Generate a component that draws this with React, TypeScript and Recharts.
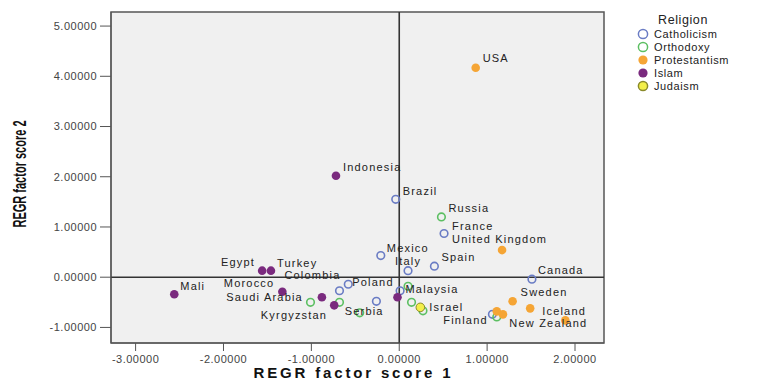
import React from "react";
import {
  ScatterChart,
  Scatter,
  XAxis,
  YAxis,
  ReferenceArea,
  ReferenceLine,
} from "recharts";

// factor scores, one set of arrays per religion
const catholicNames = ["Brazil", "France", "Mexico", "Italy", "Spain", "Canada", "Poland", "Colombia", "", "", ""];
const catholicX = [-0.04, 0.51, -0.21, 0.1, 0.4, 1.51, -0.58, -0.68, -0.26, 0.01, 1.06];
const catholicY = [1.55, 0.87, 0.43, 0.13, 0.22, -0.04, -0.14, -0.27, -0.48, -0.27, -0.74];

const orthodoxNames = ["Russia", "", "", "Serbia", "", "", "", ""];
const orthodoxX = [0.48, -1.01, -0.68, -0.45, 0.1, 0.14, 0.27, 1.11];
const orthodoxY = [1.2, -0.5, -0.5, -0.71, -0.18, -0.5, -0.67, -0.79];

const protestantNames = ["USA", "United Kingdom", "Sweden", "Iceland", "Finland", "", "New Zealand"];
const protestantX = [0.87, 1.17, 1.29, 1.49, 1.11, 1.18, 1.89];
const protestantY = [4.17, 0.54, -0.48, -0.62, -0.68, -0.74, -0.86];

const islamNames = ["Indonesia", "Egypt", "Turkey", "Mali", "Morocco", "Saudi Arabia", "Kyrgyzstan", "Malaysia"];
const islamX = [-0.72, -1.56, -1.46, -2.56, -1.33, -0.88, -0.74, -0.02];
const islamY = [2.02, 0.13, 0.13, -0.34, -0.29, -0.4, -0.56, -0.4];

const judaismNames = ["Israel"];
const judaismX = [0.24];
const judaismY = [-0.6];

const xTicks = [-3, -2, -1, 0, 1, 2];
const yTicks = [-1, 0, 1, 2, 3, 4, 5];

const build = (names: string[], xs: number[], ys: number[]) =>
  names.map((name, i) => ({ name, x: xs[i], y: ys[i] }));

// where each country label sits relative to its dot
const labelPos: Record<string, [string, number, number]> = {
  USA: ["start", 7, -10],
  Indonesia: ["start", 7, -9],
  Brazil: ["start", 7, -8],
  Russia: ["start", 7, -9],
  France: ["start", 8, -8],
  "United Kingdom": ["start", -50, -11],
  Mexico: ["start", 6, -8],
  Italy: ["start", -13, -10],
  Spain: ["start", 7, -9],
  Canada: ["start", 6, -9],
  Egypt: ["end", -7, -9],
  Turkey: ["start", 6, -8],
  Colombia: ["end", 1, -16],
  Mali: ["start", 6, -8],
  Morocco: ["end", -8, -9],
  Poland: ["start", 4, -2],
  "Saudi Arabia": ["end", -19, 0],
  Kyrgyzstan: ["end", -7, 10],
  Serbia: ["start", -15, -2],
  Malaysia: ["start", 8, -8],
  Israel: ["start", 9, 0],
  Finland: ["end", -9, 9],
  Sweden: ["start", 8, -9],
  Iceland: ["start", 12, 3],
  "New Zealand": ["start", -56, 3],
};

const groups = [
  { name: "Catholicism", data: build(catholicNames, catholicX, catholicY), color: "#6a7cc4", open: true, fill: "none" },
  { name: "Orthodoxy", data: build(orthodoxNames, orthodoxX, orthodoxY), color: "#5cbf62", open: true, fill: "none" },
  { name: "Protestantism", data: build(protestantNames, protestantX, protestantY), color: "#f5a535", open: false, fill: "#f5a535" },
  { name: "Islam", data: build(islamNames, islamX, islamY), color: "#7a2a7e", open: false, fill: "#7a2a7e" },
  { name: "Judaism", data: build(judaismNames, judaismX, judaismY), color: "#8a8a2a", open: false, fill: "#f3ef4a" },
];

const labelFont = "'Liberation Sans', Arial, sans-serif";

const makeShape = (g: (typeof groups)[number]) => (props: any) => {
  const { cx, cy, payload } = props;
  const pos = payload && payload.name ? labelPos[payload.name] : undefined;
  return (
    <g>
      {g.open ? (
        <circle cx={cx} cy={cy} r={3.8} fill="none" stroke={g.color} strokeWidth={1.6} />
      ) : (
        <circle cx={cx} cy={cy} r={4.3} fill={g.fill} stroke={g.name === "Judaism" ? g.color : "none"} strokeWidth={1} />
      )}
      {pos && (
        <text
          x={cx + pos[1]}
          y={cy + pos[2]}
          textAnchor={pos[0] as any}
          dominantBaseline="central"
          fontSize={11}
          letterSpacing={1.2}
          fontFamily={labelFont}
          fill="#222"
        >
          {payload.name}
        </text>
      )}
    </g>
  );
};

const ReligionLegend = () => (
  <div
    style={{
      position: "absolute",
      left: 636,
      top: 14,
      fontFamily: labelFont,
      fontSize: 11,
      color: "#222",
      letterSpacing: 0.6,
    }}
  >
    <div style={{ marginLeft: 22, fontSize: 12.5, lineHeight: "13px" }}>Religion</div>
    {groups.map((g) => (
      <div key={g.name} style={{ display: "flex", alignItems: "center", height: 13 }}>
        <svg width={14} height={12} style={{ marginRight: 4 }}>
          <circle
            cx={7}
            cy={6}
            r={4.6}
            fill={g.open ? "none" : g.fill}
            stroke={g.open || g.name === "Judaism" ? g.color : "none"}
            strokeWidth={1.5}
          />
        </svg>
        <span>{g.name}</span>
      </div>
    ))}
  </div>
);

const tickStyle = { fontSize: 11, fill: "#444", fontFamily: labelFont, letterSpacing: 0.5 };

const App: React.FC = () => {
  return (
    <div style={{ position: "absolute", left: 0, top: 0, width: 758, height: 381, background: "#fff" }}>
      <ScatterChart width={758} height={381} margin={{ top: 12, right: 154, bottom: 0, left: 0 }}>
        <XAxis
          type="number"
          dataKey="x"
          domain={[-3.28, 2.33]}
          ticks={xTicks}
          allowDataOverflow
          tickFormatter={(v: number) => v.toFixed(5)}
          tick={tickStyle}
          tickSize={8}
          tickMargin={4}
          stroke="#555"
          height={38}
          label={{
            content: () => (
              <text
                x={352}
                y={372}
                textAnchor="middle"
                dominantBaseline="central"
                fontSize={15}
                fontWeight="bold"
                textLength={197}
                lengthAdjust="spacing"
                fontFamily={labelFont}
                fill="#111"
              >
                REGR factor score  1
              </text>
            ),
          }}
        />
        <YAxis
          type="number"
          dataKey="y"
          domain={[-1.31, 5.28]}
          ticks={yTicks}
          allowDataOverflow
          tickFormatter={(v: number) => v.toFixed(5)}
          tick={tickStyle}
          tickSize={11}
          tickMargin={3}
          stroke="#555"
          width={111}
          label={{
            content: () => (
              <text
                x={20}
                y={174}
                transform="rotate(-90 20 174)"
                textAnchor="middle"
                dominantBaseline="central"
                fontSize={18}
                fontWeight="bold"
                textLength={107}
                lengthAdjust="spacingAndGlyphs"
                fontFamily={labelFont}
                fill="#111"
              >
                REGR factor score 2
              </text>
            ),
          }}
        />
        <ReferenceArea
          x1={-3.28}
          x2={2.33}
          y1={-1.31}
          y2={5.28}
          fill="#f0f0f0"
          fillOpacity={1}
          stroke="#555"
          strokeWidth={1.5}
        />
        <ReferenceLine x={0} stroke="#333" strokeWidth={1.6} />
        <ReferenceLine y={0} stroke="#333" strokeWidth={1.6} />
        {groups.map((g) => (
          <Scatter
            key={g.name}
            name={g.name}
            data={g.data}
            fill={g.fill}
            shape={makeShape(g)}
            isAnimationActive={false}
          />
        ))}
      </ScatterChart>
      <ReligionLegend />
    </div>
  );
};

export default App;
